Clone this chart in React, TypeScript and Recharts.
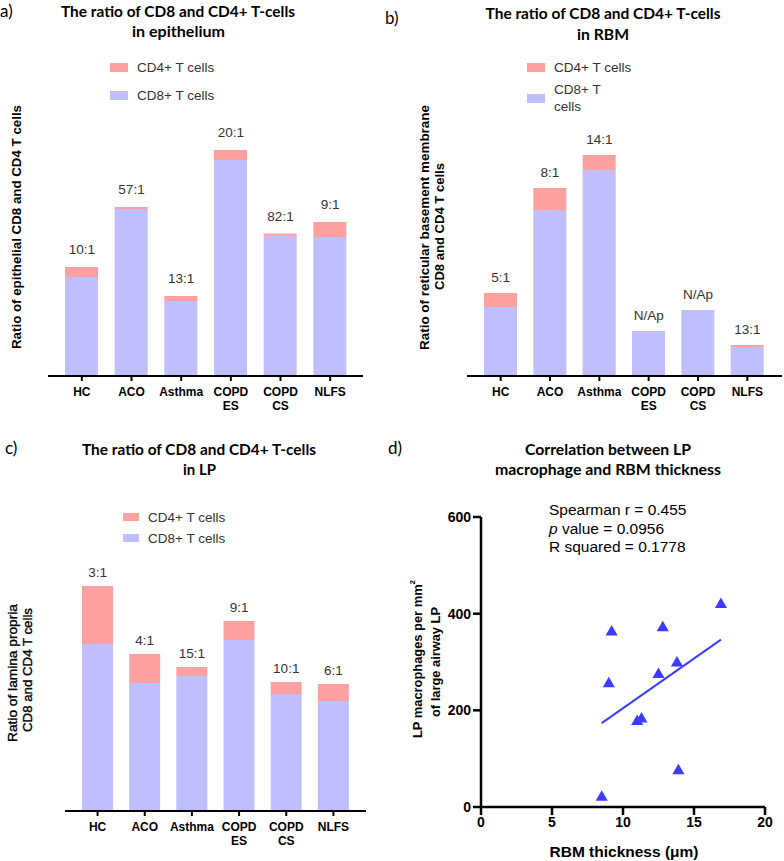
import React from 'react';
import {
  ComposedChart, Bar, Line, XAxis, YAxis, LabelList, ScatterChart, Scatter, ZAxis,
} from 'recharts';

// ---------- data ----------
const categories = ['HC', 'ACO', 'Asthma', 'COPD ES', 'COPD CS', 'NLFS'];

const epiCD8 = [99, 167, 75, 216, 141, 139];
const epiCD4 = [10, 2, 5, 10, 1.5, 15];
const epiLabels = ['10:1', '57:1', '13:1', '20:1', '82:1', '9:1'];

const rbmCD8 = [69, 166, 206, 45, 66, 29];
const rbmCD4 = [14, 22, 15, 0, 0, 2];
const rbmLabels = ['5:1', '8:1', '14:1', 'N/Ap', 'N/Ap', '13:1'];

const lpCD8 = [167, 128, 135, 171, 117, 110];
const lpCD4 = [58, 29, 9, 19, 12, 17];
const lpLabels = ['3:1', '4:1', '15:1', '9:1', '10:1', '6:1'];

const rbmThickness = [8.5, 9.0, 9.2, 11.0, 11.3, 12.5, 12.8, 13.8, 13.9, 16.9];
const lpMacrophages = [20, 255, 362, 177, 182, 274, 371, 298, 75, 419];

const xTicksD = [0, 5, 10, 15, 20];
const yTicksD = [0, 200, 400, 600];

const CD8_COLOR = '#BFBFFF';
const CD4_COLOR = '#FFA0A0';
const POINT_COLOR = '#3C3CFF';

const SANS = '"Liberation Sans", Arial, sans-serif';
const TITLE_FONT = 'Lato, "Open Sans", sans-serif';

// ---------- helpers ----------
const Centered = ({ x, y, children, style }: any) => (
  <div
    style={{
      position: 'absolute', left: x, top: y, transform: 'translate(-50%, -50%)',
      whiteSpace: 'nowrap', textAlign: 'center', ...style,
    }}
  >
    {children}
  </div>
);

const LeftText = ({ x, y, children, style }: any) => (
  <div
    style={{
      position: 'absolute', left: x, top: y, transform: 'translateY(-50%)',
      whiteSpace: 'nowrap', fontFamily: SANS, fontSize: 13.5, color: '#333', ...style,
    }}
  >
    {children}
  </div>
);

const Swatch = ({ x, y, w, h, color }: any) => (
  <div style={{ position: 'absolute', left: x, top: y, width: w, height: h, background: color }} />
);

const PanelLetter = ({ x, y, children }: any) => (
  <div
    style={{
      position: 'absolute', left: x, top: y, transform: 'translateY(-50%)',
      fontFamily: TITLE_FONT, fontSize: 17, color: '#000', whiteSpace: 'nowrap',
    }}
  >
    {children}
  </div>
);

// SVG text fitted to a given length
const FitText = ({ x, y, len, rotate, size, weight, family, children, strokeW }: any) => (
  <text
    transform={`translate(${x},${y})${rotate ? ' rotate(-90)' : ''}`}
    textAnchor="middle" dominantBaseline="central"
    textLength={len} lengthAdjust="spacingAndGlyphs"
    fontFamily={family || SANS} fontWeight={weight || 'bold'} fontSize={size}
    fill="#000" stroke={strokeW ? '#000' : 'none'} strokeWidth={strokeW || 0}
  >
    {children}
  </text>
);

const TitleText = (p: any) => <FitText {...p} size={16} family={TITLE_FONT} weight="bold" />;

const CatTick = (props: any) => {
  const { x, y, payload } = props;
  const parts = String(payload.value).split(' ');
  return (
    <g>
      {parts.map((p: string, i: number) => (
        <text
          key={i} x={x} y={y} dy={15 + i * 14} textAnchor="middle"
          fontFamily={SANS} fontWeight="bold" fontSize={12} fill="#000"
        >
          {p}
        </text>
      ))}
    </g>
  );
};

const RatioChart = ({
  left, top, width, height, mLeft, mRight, plotTop, axisHeight, padL, padR,
  barSize, cd8, cd4, labels, labelOffset,
}: any) => {
  const data = categories.map((c, i) => ({
    cat: c, cd8: cd8[i], cd4: cd4[i], total: cd8[i] + cd4[i], lbl: labels[i],
  }));
  const plotH = height - plotTop - axisHeight;
  return (
    <div style={{ position: 'absolute', left, top }}>
      <ComposedChart
        width={width} height={height} data={data}
        margin={{ top: plotTop, right: mRight, left: mLeft, bottom: 0 }}
      >
        <XAxis
          dataKey="cat" height={axisHeight} interval={0}
          padding={{ left: padL, right: padR }}
          axisLine={{ stroke: '#000', strokeWidth: 2 }}
          tickLine={{ stroke: '#000', strokeWidth: 2 }}
          tickSize={5} tickMargin={0}
          tick={<CatTick />}
        />
        <YAxis hide domain={[0, plotH]} allowDataOverflow />
        <Bar dataKey="cd8" stackId="s" fill={CD8_COLOR} barSize={barSize} isAnimationActive={false} />
        <Bar dataKey="cd4" stackId="s" fill={CD4_COLOR} barSize={barSize} isAnimationActive={false} />
        <Line
          dataKey="total" stroke="none" dot={false} activeDot={false}
          legendType="none" isAnimationActive={false}
        >
          <LabelList
            dataKey="lbl" position="top" offset={labelOffset}
            fill="#333" fontSize={13.5} fontFamily={SANS}
          />
        </Line>
      </ComposedChart>
    </div>
  );
};

// regression line from the scatter data
const points = rbmThickness.map((x, i) => ({ x, y: lpMacrophages[i] }));
const n = points.length;
const mx = rbmThickness.reduce((a, b) => a + b, 0) / n;
const my = lpMacrophages.reduce((a, b) => a + b, 0) / n;
const slope =
  points.reduce((a, p) => a + (p.x - mx) * (p.y - my), 0) /
  points.reduce((a, p) => a + (p.x - mx) * (p.x - mx), 0);
const intercept = my - slope * mx;
const xMin = Math.min(...rbmThickness);
const xMax = Math.max(...rbmThickness);
const fitLine = [
  { x: xMin, y: intercept + slope * xMin },
  { x: xMax, y: intercept + slope * xMax },
];

const axisTickStyle = { fontFamily: SANS, fontWeight: 'bold', fontSize: 14, fill: '#000' };

export default function App() {
  return (
    <div
      style={{
        position: 'absolute', left: 0, top: 0, width: 784, height: 861,
        background: '#fff', overflow: 'hidden', fontFamily: SANS,
      }}
    >
      {/* Panel a */}
      <PanelLetter x={0} y={10}>a)</PanelLetter>
      <Swatch x={110} y={63} w={18} h={9} color={CD4_COLOR} />
      <LeftText x={137} y={67}>CD4+ T cells</LeftText>
      <Swatch x={110} y={91} w={18} h={9} color={CD8_COLOR} />
      <LeftText x={137} y={95}>CD8+ T cells</LeftText>
      <RatioChart
        left={0} top={0} width={392} height={420} mLeft={48} mRight={29}
        plotTop={126} axisHeight={44} padL={9} padR={8} barSize={33}
        cd8={epiCD8} cd4={epiCD4} labels={epiLabels} labelOffset={13}
      />

      {/* Panel b */}
      <PanelLetter x={385} y={17}>b)</PanelLetter>
      <Swatch x={527} y={63} w={18} h={9} color={CD4_COLOR} />
      <LeftText x={554} y={67}>CD4+ T cells</LeftText>
      <Swatch x={527} y={94} w={18} h={9} color={CD8_COLOR} />
      <LeftText x={554} y={89}>CD8+ T</LeftText>
      <LeftText x={554} y={106}>cells</LeftText>
      <RatioChart
        left={392} top={0} width={392} height={420} mLeft={75} mRight={2}
        plotTop={126} axisHeight={44} padL={9} padR={10} barSize={33}
        cd8={rbmCD8} cd4={rbmCD4} labels={rbmLabels} labelOffset={11}
      />

      {/* Panel c */}
      <PanelLetter x={5} y={447}>c)</PanelLetter>
      <Swatch x={123} y={513} w={16} h={8} color={CD4_COLOR} />
      <LeftText x={148} y={517}>CD4+ T cells</LeftText>
      <Swatch x={123} y={534} w={16} h={8} color={CD8_COLOR} />
      <LeftText x={148} y={538}>CD8+ T cells</LeftText>
      <RatioChart
        left={0} top={400} width={392} height={460} mLeft={65} mRight={26}
        plotTop={161} axisHeight={49} padL={9} padR={9} barSize={31}
        cd8={lpCD8} cd4={lpCD4} labels={lpLabels} labelOffset={9}
      />

      {/* Panel d */}
      <PanelLetter x={388} y={447}>d)</PanelLetter>
      <div style={{ position: 'absolute', left: 392, top: 400 }}>
        <ScatterChart width={392} height={461} margin={{ top: 117, right: 19, left: 39, bottom: 0 }}>
          <XAxis
            type="number" dataKey="x" domain={[0, 20]} ticks={xTicksD} height={54}
            axisLine={{ stroke: '#000', strokeWidth: 2.5 }}
            tickLine={{ stroke: '#000', strokeWidth: 2.5 }}
            tickSize={8} tickMargin={2} tick={axisTickStyle}
          />
          <YAxis
            type="number" dataKey="y" domain={[0, 600]} ticks={yTicksD} width={50}
            axisLine={{ stroke: '#000', strokeWidth: 2.5 }}
            tickLine={{ stroke: '#000', strokeWidth: 2.5 }}
            tickSize={8} tickMargin={2} tick={axisTickStyle}
          />
          <ZAxis range={[45, 45]} />
          <Scatter data={points} fill={POINT_COLOR} shape="triangle" isAnimationActive={false} />
          <Scatter
            data={fitLine} line={{ stroke: POINT_COLOR, strokeWidth: 2 }}
            shape={() => <g />} isAnimationActive={false}
          />
        </ScatterChart>
      </div>
      <div
        style={{
          position: 'absolute', left: 549, top: 501, fontFamily: SANS, fontSize: 15.5,
          lineHeight: '18.5px', color: '#000', whiteSpace: 'nowrap',
        }}
      >
        <div>Spearman r = 0.455</div>
        <div><i>p</i> value = 0.0956</div>
        <div>R squared = 0.1778</div>
      </div>
      <Centered x={624} y={852} style={{ fontFamily: SANS, fontWeight: 'bold', fontSize: 15.5, color: '#000' }}>
        RBM thickness (μm)
      </Centered>

      {/* titles and axis titles */}
      <svg
        width={784} height={861}
        style={{ position: 'absolute', left: 0, top: 0, pointerEvents: 'none' }}
      >
        <TitleText x={178} y={10} len={234}>The ratio of CD8 and CD4+ T-cells</TitleText>
        <TitleText x={178.5} y={30} len={93}>in epithelium</TitleText>
        <TitleText x={603} y={12} len={235}>The ratio of CD8 and CD4+ T-cells</TitleText>
        <TitleText x={603} y={33} len={52}>in RBM</TitleText>
        <TitleText x={199} y={448} len={234}>The ratio of CD8 and CD4+ T-cells</TitleText>
        <TitleText x={199.5} y={468} len={33}>in LP</TitleText>
        <TitleText x={608} y={448} len={166}>Correlation between LP</TitleText>
        <TitleText x={608} y={468} len={226}>macrophage and RBM thickness</TitleText>

        <FitText x={16} y={227} len={244} rotate size={13.5}>Ratio of epithelial CD8 and CD4 T cells</FitText>
        <FitText x={424} y={227.5} len={245} rotate size={13}>Ratio of reticular basement membrane</FitText>
        <FitText x={439} y={226.5} len={127} rotate size={13}>CD8 and CD4 T cells</FitText>
        <FitText x={12} y={673} len={138} rotate size={13} weight="normal" strokeW={0.35}>Ratio of lamina propria</FitText>
        <FitText x={27} y={670} len={124} rotate size={13} weight="normal" strokeW={0.35}>CD8 and CD4 T cells</FitText>
        <FitText x={417} y={659} len={158} rotate size={13}>
          LP macrophages per mm<tspan fontSize={8} dy={-5}>2</tspan>
        </FitText>
        <FitText x={435} y={662} len={110} rotate size={13}>of large airway LP</FitText>
      </svg>
    </div>
  );
}
